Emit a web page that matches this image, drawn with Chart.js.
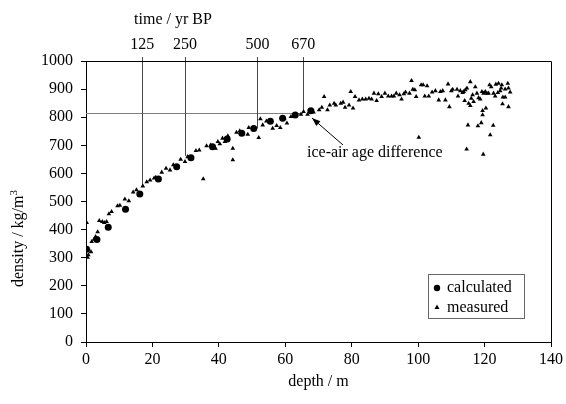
<!DOCTYPE html>
<html lang="en">
<head>
    <meta charset="UTF-8">
    <title>density vs depth</title>
    <script src="https://cdn.jsdelivr.net/npm/chart.js/dist/chart.umd.min.js"></script>
    <style>
        body {
            margin: 0;
            padding: 0;
            background-color: #fff;
        }
        #chart-container {
            width: 566px;
            height: 404px;
        }
    </style>
</head>
<body>
  <div id="chart-container">
      <canvas id="densityChart" width="566" height="404"></canvas>
  </div>

  <script>
    // calculated densities (circles)
    const calcDepth   = [0.2, 3.3, 6.7, 11.9, 16.2, 21.8, 27.3, 31.6, 38.1, 42.5, 46.9, 50.5, 55.5, 59.2, 63.0, 67.7];
    const calcDensity = [330, 365, 408, 472, 527, 580, 624, 656, 695, 722, 743, 760, 786, 796, 808, 823];

    // measured densities (triangles)
    const measDepth = [
      0.2, 0.5, 0.7, 1.5, 1.7, 2.4, 2.9, 3.5, 4.0, 4.9, 5.5, 6.2, 6.9, 7.7, 9.5, 10.2, 11.7, 12.9, 14.2, 15.2,
      17.1, 18.3, 19.3, 20.5, 21.0, 22.8, 24.1, 25.3, 26.3, 28.5, 29.8, 30.6, 33.1, 34.1, 35.3, 36.3, 37.5, 39.0, 39.7, 40.3,
      41.1, 41.8, 42.7, 44.2, 44.2, 45.3, 46.3, 48.7, 49.0, 52.0, 52.5, 53.2, 54.3, 56.2, 57.4, 58.5, 59.7, 60.5, 61.7, 64.7,
      65.5, 66.7, 68.5, 70.2, 71.0, 71.7, 72.7, 73.4, 74.7, 75.2, 76.7, 77.4, 78.0, 79.2, 79.7, 80.4, 81.0, 82.2, 83.2, 84.2,
      85.2, 86.0, 86.7, 87.5, 88.0, 89.0, 90.0, 91.0, 92.0, 92.7, 93.4, 94.4, 95.0, 95.7, 96.2, 97.4, 98.0, 98.4, 99.0, 99.4,
      100.2, 100.9, 101.5, 102.0, 102.7, 103.2, 104.2, 105.2, 106.2, 106.7, 107.4, 108.2, 109.0, 109.4, 110.0, 110.4, 111.7, 112.0, 112.7, 113.4,
      113.7, 114.0, 114.2, 114.7, 115.0, 115.2, 115.7, 115.7, 116.0, 116.4, 116.7, 117.2, 117.7, 118.0, 118.2, 118.7, 119.0, 119.2, 119.4, 119.4,
      119.6, 119.7, 120.2, 120.4, 120.7, 121.2, 121.5, 121.7, 122.0, 122.6, 122.7, 123.2, 123.4, 124.0, 124.2, 124.7, 125.0, 125.2, 125.4, 125.5,
      126.2, 126.2, 127.0, 127.2, 127.2, 127.7, 114.6
    ];
    const measDensity = [
      425, 301, 310, 321, 357, 365, 375, 392, 432, 428, 425, 428, 456, 464, 484, 486, 508, 502, 533, 541,
      555, 570, 576, 583, 586, 604, 618, 612, 630, 650, 642, 659, 681, 683, 580, 698, 700, 689, 713, 705,
      725, 713, 733, 689, 648, 746, 751, 739, 763, 727, 794, 772, 786, 760, 770, 763, 796, 779, 802, 810,
      820, 810, 818, 826, 835, 873, 826, 843, 849, 843, 849, 853, 835, 843, 891, 832, 873, 861, 864, 864,
      867, 864, 885, 859, 883, 873, 885, 875, 875, 875, 885, 879, 864, 883, 889, 885, 930, 899, 897, 873,
      728, 915, 915, 875, 911, 875, 889, 894, 861, 891, 894, 861, 918, 837, 894, 899, 899, 875, 894, 887,
      891, 859, 897, 903, 772, 849, 926, 841, 867, 879, 855, 908, 885, 769, 869, 864, 780, 891, 823, 808,
      668, 885, 891, 832, 885, 885, 915, 737, 908, 771, 885, 875, 917, 887, 920, 894, 903, 915, 847, 871,
      900, 871, 920, 903, 837, 889, 686
    ];

    // ice age markers on the top axis
    const timeLabels  = ['125', '250', '500', '670'];
    const timeDepth   = [16.9, 29.8, 51.6, 65.4];
    const timeDensity = [555, 662, 760, 815];
    const closeOffDensity = 815;

    const serif = 'Liberation Serif';

    const toPoints = (xs, ys) => xs.map((x, i) => ({ x: x, y: ys[i] }));

    // annotation plugin: marker lines, top axis, arrow, legend, titles
    const iceAirPlugin = {
      id: 'iceAirPlugin',
      beforeDatasetsDraw(chart) {
        const { ctx, chartArea: { top, left }, scales: { x, y } } = chart;
        ctx.save();
        ctx.lineWidth = 1;
        // horizontal close-off line
        ctx.strokeStyle = '#808080';
        const yh = Math.round(y.getPixelForValue(closeOffDensity)) + 0.5;
        ctx.beginPath();
        ctx.moveTo(left, yh);
        ctx.lineTo(Math.round(x.getPixelForValue(timeDepth[3])), yh);
        ctx.stroke();
        // vertical time lines
        ctx.strokeStyle = '#4a4a4a';
        timeDepth.forEach((d, i) => {
          const xp = Math.round(x.getPixelForValue(d)) + 0.5;
          ctx.beginPath();
          ctx.moveTo(xp, top - 4);
          ctx.lineTo(xp, y.getPixelForValue(timeDensity[i]));
          ctx.stroke();
        });
        ctx.restore();
      },
      afterDraw(chart) {
        const { ctx, chartArea: { top, bottom, left, right }, scales: { x, y } } = chart;
        ctx.save();
        // frame top + right
        ctx.strokeStyle = '#000';
        ctx.lineWidth = 1;
        ctx.beginPath();
        ctx.moveTo(left, Math.round(top) + 0.5);
        ctx.lineTo(Math.round(right) + 0.5, Math.round(top) + 0.5);
        ctx.lineTo(Math.round(right) + 0.5, bottom);
        ctx.stroke();

        ctx.fillStyle = '#000';
        ctx.font = '16px "' + serif + '"';
        ctx.textAlign = 'center';
        ctx.textBaseline = 'middle';
        timeLabels.forEach((t, i) => {
          ctx.fillText(t, x.getPixelForValue(timeDepth[i]), 45);
        });
        ctx.fillText('time / yr BP', 173, 20);

        // axis titles
        ctx.fillText('depth / m', (left + right) / 2, 382);
        ctx.save();
        ctx.translate(19, (top + bottom) / 2);
        ctx.rotate(-Math.PI / 2);
        ctx.textAlign = 'right';
        ctx.fillText('density / kg/m', 6, 0);
        ctx.font = '11px "' + serif + '"';
        ctx.textAlign = 'left';
        ctx.fillText('3', 6, -5);
        ctx.restore();

        // arrow
        const tx = 312, ty = 118, sx = 343, sy = 145;
        ctx.strokeStyle = '#000';
        ctx.beginPath();
        ctx.moveTo(sx, sy);
        ctx.lineTo(tx, ty);
        ctx.stroke();
        const ang = Math.atan2(ty - sy, tx - sx);
        ctx.beginPath();
        ctx.moveTo(tx, ty);
        ctx.lineTo(tx - 9 * Math.cos(ang - 0.35), ty - 9 * Math.sin(ang - 0.35));
        ctx.lineTo(tx - 9 * Math.cos(ang + 0.35), ty - 9 * Math.sin(ang + 0.35));
        ctx.closePath();
        ctx.fill();
        ctx.textAlign = 'left';
        ctx.fillText('ice-air age difference', 307, 153);

        // legend
        ctx.strokeStyle = '#666';
        ctx.strokeRect(428.5, 274.5, 96, 44);
        ctx.beginPath();
        ctx.arc(437, 288, 3.2, 0, Math.PI * 2);
        ctx.fill();
        ctx.beginPath();
        ctx.moveTo(437, 304.5);
        ctx.lineTo(439.5, 309);
        ctx.lineTo(434.5, 309);
        ctx.closePath();
        ctx.fill();
        ctx.fillText('calculated', 447, 288);
        ctx.fillText('measured', 447, 308);
        ctx.restore();
      }
    };

    const config = {
      type: 'scatter',
      data: {
        datasets: [
          {
            label: 'measured',
            data: toPoints(measDepth, measDensity),
            pointStyle: 'triangle',
            pointRadius: 2.7,
            backgroundColor: '#000',
            borderColor: '#000',
            borderWidth: 0
          },
          {
            label: 'calculated',
            data: toPoints(calcDepth, calcDensity),
            pointStyle: 'circle',
            pointRadius: 3.5,
            backgroundColor: '#000',
            borderColor: '#000',
            borderWidth: 0
          }
        ]
      },
      options: {
        responsive: false,
        animation: false,
        devicePixelRatio: 1,
        layout: {
          padding: { top: 61, right: 13, left: 0, bottom: 0 }
        },
        plugins: {
          legend: { display: false },
          tooltip: { enabled: false }
        },
        scales: {
          x: {
            type: 'linear',
            min: 0,
            max: 140,
            afterFit: (scale) => { scale.height = 62; },
            ticks: {
              stepSize: 20,
              padding: 3,
              color: '#000',
              font: { family: serif, size: 16 },
              callback: (v) => String(v)
            },
            grid: { drawOnChartArea: false, tickLength: 5, color: '#000' },
            border: { color: '#000', width: 1 }
          },
          y: {
            min: 0,
            max: 1000,
            afterFit: (scale) => { scale.width = 86; },
            ticks: {
              stepSize: 100,
              padding: 8,
              color: '#000',
              font: { family: serif, size: 16 },
              callback: (v) => String(v)
            },
            grid: { drawOnChartArea: false, tickLength: 5, color: '#000' },
            border: { color: '#000', width: 1 }
          }
        }
      },
      plugins: [iceAirPlugin]
    };

    const myChart = new Chart(
      document.getElementById('densityChart'),
      config
    );
  </script>
</body>
</html>
